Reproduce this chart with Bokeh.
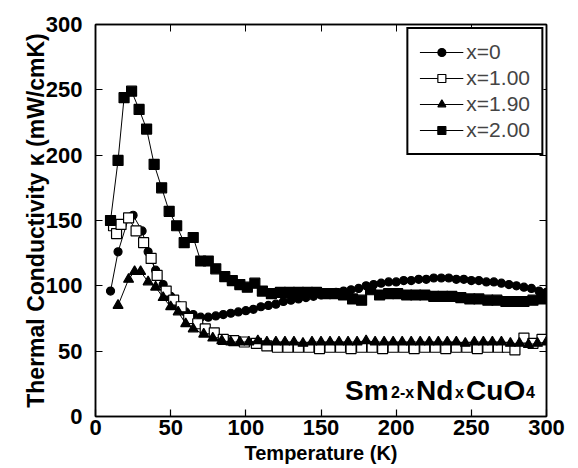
from bokeh.plotting import figure
from bokeh.models import (Range1d, LinearAxis, Legend, LegendItem, Label, FixedTicker,
                          CustomLabelingPolicy)
from bokeh.embed import file_html
from bokeh.resources import INLINE

# ---- data ----
T_x0 = [10, 15, 22, 25, 31, 35, 40, 45, 50, 55, 60, 65, 70, 75, 80, 85, 90, 95, 100, 105,
        110, 115, 120, 125, 130, 135, 140, 145, 150, 155, 160, 165, 170, 175, 180, 185,
        190, 195, 200, 205, 210, 215, 220, 225, 230, 235, 240, 245, 250, 255, 260, 265,
        270, 275, 280, 285, 290, 295, 300]
K_x0 = [96, 126, 152, 154, 142, 126, 112, 101, 92, 85, 80, 78, 76, 76, 77, 78, 79, 80, 81, 82,
        84, 85, 86, 88, 89, 90, 91, 92, 93, 94, 95, 96, 97, 98, 100, 101,
        102, 103, 103, 104, 104, 105, 105, 106, 106, 106, 105, 105, 104, 104, 103, 103,
        102, 101, 100, 99, 98, 96, 95]

T_x1 = [12, 14, 17, 22, 27, 32, 37, 41, 47, 52, 57, 62, 68, 73, 79, 85, 92, 99, 107, 114,
        121, 128, 135, 142, 149, 156, 163, 170, 177, 184, 191, 198, 205, 212, 219, 226,
        233, 240, 247, 254, 261, 268, 274, 279, 285, 291, 297]
K_x1 = [146, 140, 147, 152, 142, 133, 121, 108, 96, 89, 84, 75, 71, 67, 64, 59, 58, 57, 56, 54,
        53, 53, 53, 53, 52, 53, 53, 52, 53, 53, 52, 53, 53, 52, 53, 53,
        52, 53, 53, 52, 53, 53, 53, 51, 60, 56, 59]

T_x2 = [15, 22, 26, 30, 35, 40, 45, 50, 55, 60, 65, 72, 78, 84, 90, 96, 102, 108, 114, 120,
        126, 132, 138, 144, 150, 156, 162, 168, 174, 180, 186, 192, 198, 204, 210, 216,
        222, 228, 234, 240, 246, 252, 258, 264, 270, 276, 282, 288, 294, 300]
K_x2 = [85, 105, 111, 111, 103, 99, 91, 84, 80, 71, 67, 63, 60, 58, 57, 57, 57, 58, 57, 57,
        57, 57, 56, 57, 57, 57, 57, 57, 57, 58, 57, 57, 57, 57, 57, 57,
        57, 57, 57, 57, 56, 57, 57, 57, 57, 56, 56, 55, 56, 57]

T_x3 = [10, 15, 19, 24, 29, 34, 39, 44, 49, 54, 59, 65, 70, 75, 80, 86, 91, 96, 101, 106,
        111, 117, 123, 129, 135, 141, 147, 153, 159, 165, 171, 177, 183, 189, 195, 201,
        207, 213, 219, 225, 231, 237, 243, 249, 255, 261, 267, 273, 279, 285, 291, 297]
K_x3 = [150, 196, 244, 249, 235, 220, 193, 175, 157, 146, 133, 137, 119, 119, 113, 107, 104, 101, 99, 102,
        96, 94, 95, 95, 95, 95, 95, 94, 94, 93, 90, 89, 97, 93, 94, 94,
        93, 93, 93, 92, 92, 92, 91, 90, 90, 89, 89, 88, 88, 88, 89, 90]

series_labels = ["x=0", "x=1.00", "x=1.90", "x=2.00"]
tick_values = [0, 50, 100, 150, 200, 250, 300]

TICK_FONT = "Liberation Sans"
p = figure(width=578, height=468, output_backend="svg", toolbar_location=None,
           x_range=Range1d(0, 300), y_range=Range1d(0, 300),
           min_border_left=95, min_border_right=32, min_border_top=24, min_border_bottom=52)
p.grid.visible = False
p.outline_line_color = "black"
p.outline_line_width = 1.5

for ax in (p.xaxis[0], p.yaxis[0]):
    ax.ticker = FixedTicker(ticks=tick_values)
    ax.major_tick_in = 7
    ax.major_tick_out = 0
    ax.minor_tick_line_color = None
    ax.axis_line_width = 1.5
    ax.major_tick_line_width = 1.2
    ax.major_label_text_font = TICK_FONT
    ax.major_label_text_font_style = "bold"
    ax.major_label_text_font_size = "22px"
    ax.major_label_text_color = "black"
    ax.axis_label_text_font = "Liberation Sans"
    ax.axis_label_text_font_style = "bold"
    ax.axis_label_text_color = "black"

p.xaxis.axis_label = "Temperature (K)"
p.xaxis.axis_label_text_font_size = "20px"
p.xaxis.major_label_standoff = 3
p.xaxis.axis_label_standoff = 4
p.yaxis.axis_label = "Thermal Conductivity \u03ba (mW/cmK)"
p.yaxis.axis_label_text_font_size = "23px"
p.yaxis.major_label_standoff = 13
p.yaxis.axis_label_standoff = -6

hide_all = CustomLabelingPolicy(code="for (const i of Array.from(indices)) { indices.unset(i) }")
for loc in ("above", "right"):
    ax = LinearAxis(ticker=FixedTicker(ticks=tick_values), major_tick_in=7, major_tick_out=0,
                    minor_tick_line_color=None, major_label_policy=hide_all,
                    major_label_standoff=0, axis_line_width=1.5)
    p.add_layout(ax, loc)

items = []
specs = [
    (T_x0, K_x0, "circle", 8, "black"),
    (T_x1, K_x1, "square", 10, "white"),
    (T_x2, K_x2, "triangle", 10, "black"),
    (T_x3, K_x3, "square", 10, "black"),
]
for (tx, ky, mk, sz, fc), lab in zip(specs, series_labels):
    ln = p.line(tx, ky, line_color="black", line_width=1)
    sc = p.scatter(tx, ky, marker=mk, size=sz, fill_color=fc, line_color="black", line_width=1.2)
    items.append(LegendItem(label=lab, renderers=[ln, sc]))

legend = Legend(items=items, location="top_right", margin=3, padding=11, spacing=2,
                glyph_width=44, glyph_height=20, label_height=20, label_standoff=3,
                label_text_font="Liberation Sans", label_text_font_size="21px",
                border_line_color="black", border_line_width=2, border_line_alpha=1.0,
                background_fill_color="white", background_fill_alpha=1.0)
p.add_layout(legend, "center")

# compound formula annotation
parts = [("Sm", "28px", 0, 0), ("2-x", "16px", 46, -2), ("Nd", "28px", 71, 0),
         ("x", "16px", 110, -2), ("CuO", "28px", 121, 0), ("4", "16px", 181, -2)]
for txt, fs, dx, dy in parts:
    p.add_layout(Label(x=166, y=20, x_offset=dx, y_offset=dy, text=txt,
                       text_font="Liberation Sans", text_font_style="bold",
                       text_font_size=fs, text_baseline="alphabetic", text_color="black"))

open("out.html", "w").write(file_html(p, INLINE))
